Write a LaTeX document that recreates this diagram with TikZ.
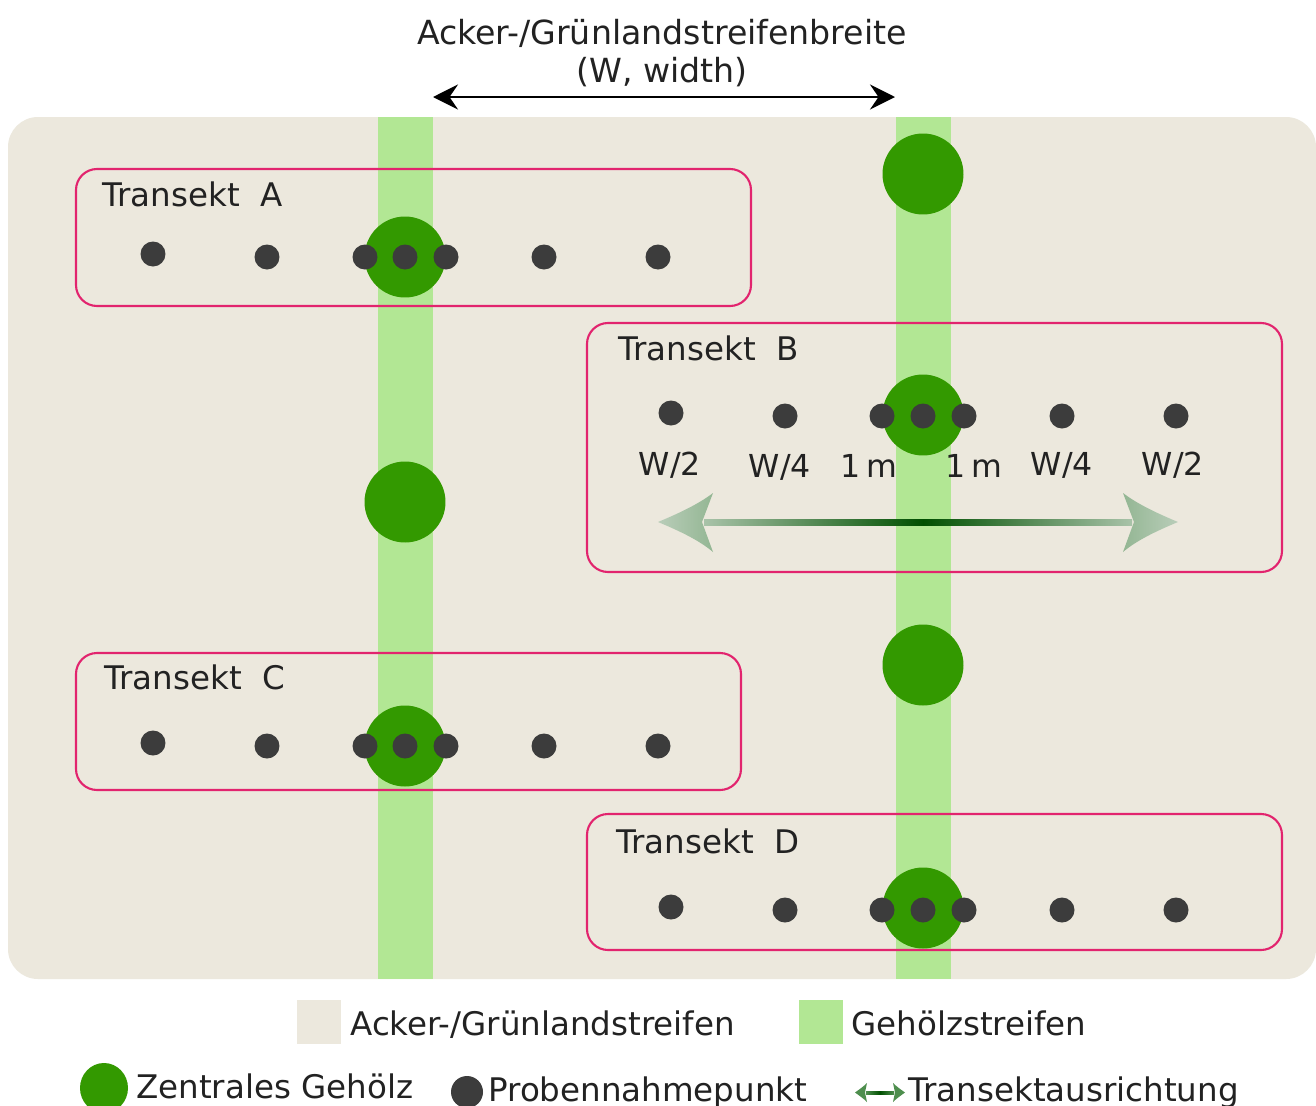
\documentclass[tikz,border=0pt]{standalone}
\usepackage{fontspec}
\setmainfont{DejaVu Sans}
\usetikzlibrary{arrows.meta}
\definecolor{field}{HTML}{ECE8DD}
\definecolor{strip}{HTML}{B2E794}
\definecolor{tree}{HTML}{339900}
\definecolor{dotc}{HTML}{3C3C3C}
\definecolor{rim}{HTML}{E2246E}
\definecolor{txt}{HTML}{222222}
\definecolor{arrdark}{HTML}{004F00}
\definecolor{arrlight}{HTML}{A9C3A9}
\definecolor{headlight}{HTML}{B9CDB9}
\definecolor{headmid}{HTML}{93B693}
\definecolor{leghead}{HTML}{4E8E4E}
\begin{document}
\begin{tikzpicture}[x=0.02cm,y=-0.02cm,
  treenode/.style={circle, fill=tree, minimum size=1.62cm, inner sep=0pt},
  dotnode/.style={circle, fill=dotc, minimum size=0.5cm, inner sep=0pt},
  transbox/.style={draw=rim, line width=1.2pt, rounded corners=0.42cm},
  lbl/.style={font=\fontsize{18}{22}\selectfont, text=txt, inner sep=0pt},
  tlbl/.style={font=\fontsize{18.5}{22}\selectfont, text=txt, inner sep=0pt},
  biglbl/.style={font=\fontsize{18.5}{22}\selectfont, text=txt, inner sep=0pt},
  blackarrow/.style={line width=1.4pt, {Stealth[length=0.5cm,width=0.5cm,inset=0.17cm]}-{Stealth[length=0.5cm,width=0.5cm,inset=0.17cm]}}
]
\useasboundingbox (0,0) rectangle (1316,1106);
\clip (0,0) rectangle (1316,1106);
\fill[white] (0,0) rectangle (1316,1106);

% field
\fill[field, rounded corners=0.6cm] (8,117) rectangle (1316,979);
% strips
\fill[strip] (378,117) rectangle (433,979);
\fill[strip] (896,117) rectangle (951,979);

% title
\node[biglbl, font=\fontsize{18.9}{22}\selectfont, anchor=base] (title1) at (662,44) {Acker-/Grünlandstreifenbreite};
\node[biglbl, font=\fontsize{18.9}{22}\selectfont, anchor=base] (title2) at (662,82) {(W, width)};
\coordinate (wl) at (433,97);
\coordinate (wr) at (895,97);
\draw[blackarrow] (wl) -- (wr);

% transect boxes
\draw[transbox] (76,169) rectangle (751,306);
\draw[transbox] (587,323) rectangle (1282,572);
\draw[transbox] (76,653) rectangle (741,790);
\draw[transbox] (587,814) rectangle (1282,950);

% trees
\node[treenode] (tA) at (405,257) {};
\node[treenode] (tTop) at (923,174) {};
\node[treenode] (tB) at (923,415) {};
\node[treenode] (tMid) at (405,502) {};
\node[treenode] (tLow) at (923,665) {};
\node[treenode] (tC) at (405,746) {};
\node[treenode] (tD) at (923,908) {};

% labels
\node[tlbl, anchor=base west] (lA) at (102,206) {Transekt\ \ A};
\node[tlbl, anchor=base west] (lB) at (618,360) {Transekt\ \ B};
\node[tlbl, anchor=base west] (lC) at (104,689) {Transekt\ \ C};
\node[tlbl, anchor=base west] (lD) at (616,853) {Transekt\ \ D};

% dots A
\node[dotnode] (a1) at (153,254) {};
\node[dotnode] (a2) at (267,257) {};
\node[dotnode] (a3) at (365,257) {};
\node[dotnode] (a4) at (405,257) {};
\node[dotnode] (a5) at (446,257) {};
\node[dotnode] (a6) at (544,257) {};
\node[dotnode] (a7) at (658,257) {};
% dots B
\node[dotnode] (b1) at (671,413) {};
\node[dotnode] (b2) at (785,416) {};
\node[dotnode] (b3) at (882,416) {};
\node[dotnode] (b4) at (923,416) {};
\node[dotnode] (b5) at (964,416) {};
\node[dotnode] (b6) at (1062,416) {};
\node[dotnode] (b7) at (1176,416) {};
% dots C
\node[dotnode] (c1) at (153,743) {};
\node[dotnode] (c2) at (267,746) {};
\node[dotnode] (c3) at (365,746) {};
\node[dotnode] (c4) at (405,746) {};
\node[dotnode] (c5) at (446,746) {};
\node[dotnode] (c6) at (544,746) {};
\node[dotnode] (c7) at (658,746) {};
% dots D
\node[dotnode] (d1) at (671,907) {};
\node[dotnode] (d2) at (785,910) {};
\node[dotnode] (d3) at (882,910) {};
\node[dotnode] (d4) at (923,910) {};
\node[dotnode] (d5) at (964,910) {};
\node[dotnode] (d6) at (1062,910) {};
\node[dotnode] (d7) at (1176,910) {};

% distance labels
\node[lbl, anchor=base] (w1) at (670,475) {W/2};
\node[lbl, anchor=base] (w2) at (780,477) {W/4};
\node[lbl, anchor=base] (m1) at (869,477) {1\kern0.2em m};
\node[lbl, anchor=base] (m2) at (974,477) {1\kern0.2em m};
\node[lbl, anchor=base] (w3) at (1062,475) {W/4};
\node[lbl, anchor=base] (w4) at (1173,475) {W/2};

% gradient transect arrow
\coordinate (ol) at (658,522);
\coordinate (or) at (1178,522);
\shade[left color=arrlight, right color=arrdark] (704,519) rectangle (923,525);
\shade[left color=arrdark, right color=arrlight] (923,519) rectangle (1132,525);
\shade[left color=headlight, right color=headmid]
  (ol) .. controls (682,512) and (700,503) .. (713,493) -- (702,522) -- (713,552)
  .. controls (700,541) and (682,532) .. (ol) -- cycle;
\shade[left color=headmid, right color=headlight]
  (or) .. controls (1154,512) and (1136,503) .. (1123,493) -- (1134,522) -- (1123,552)
  .. controls (1136,541) and (1154,532) .. (or) -- cycle;

% legend row 1
\fill[field] (297,1000) rectangle (341,1044);
\node[biglbl, anchor=base west] (leg1) at (350,1035) {Acker-/Grünlandstreifen};
\fill[strip] (799,1000) rectangle (843,1044);
\node[biglbl, anchor=base west] (leg2) at (851,1035) {Gehölzstreifen};

% legend row 2
\fill[tree] (104,1088) ellipse [x radius=24, y radius=25];
\node[biglbl, anchor=base west] (leg3) at (136,1098) {Zentrales Gehölz};
\fill[dotc] (467,1092) ellipse [x radius=16, y radius=16];
\node[biglbl, anchor=base west] (leg4) at (488,1101) {Probennahmepunkt};
\shade[left color=leghead, right color=arrdark] (866,1091) rectangle (880,1094);
\shade[left color=arrdark, right color=leghead] (880,1091) rectangle (894,1094);
\fill[leghead] (855,1092.5) .. controls (860,1089) and (864,1086) .. (867,1083) -- (865,1092.5) -- (867,1102) .. controls (864,1099) and (860,1096) .. (855,1092.5) -- cycle;
\fill[leghead] (905,1092.5) .. controls (900,1089) and (896,1086) .. (893,1083) -- (895,1092.5) -- (893,1102) .. controls (896,1099) and (900,1096) .. (905,1092.5) -- cycle;
\node[biglbl, anchor=base west] (leg5) at (908,1101) {Transektausrichtung};
\end{tikzpicture}
\end{document}
